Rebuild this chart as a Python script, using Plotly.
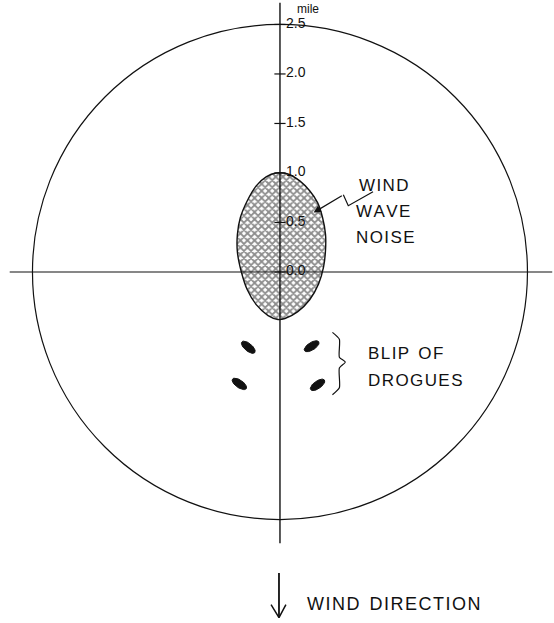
import numpy as np
import plotly.graph_objects as go

# ---- data (miles) ----
ring_radius = 2.5
tick_values = [0.0, 0.5, 1.0, 1.5, 2.0, 2.5]
tick_labels = ["0.0", "0.5", "1.0", "1.5", "2.0", "2.5"]

noise_x = [-0.04, 0.08, 0.20, 0.30, 0.38, 0.43, 0.46, 0.46, 0.44, 0.39, 0.30, 0.18, 0.05,
           -0.02, -0.12, -0.24, -0.33, -0.39, -0.43, -0.43, -0.40, -0.33, -0.24, -0.14, -0.04]
noise_y = [1.00, 0.99, 0.92, 0.82, 0.70, 0.55, 0.38, 0.22, 0.05, -0.12, -0.28, -0.40, -0.47,
           -0.48, -0.44, -0.33, -0.18, 0.00, 0.20, 0.38, 0.55, 0.72, 0.87, 0.96, 1.00]

drogue_x = [-0.32, 0.32, -0.41, 0.38]
drogue_y = [-0.76, -0.75, -1.13, -1.14]
drogue_angle = [-40, 32, -35, 35]

zig_x = [0.94, 0.69, 0.64, 0.34]
zig_y = [0.81, 0.67, 0.78, 0.60]

brace_x = [0.53, 0.60, 0.60, 0.66, 0.60, 0.60, 0.53]
brace_y = [-0.61, -0.68, -0.86, -0.91, -0.97, -1.17, -1.24]

BLACK = "#111111"
FONT = "Liberation Sans"
HS = "\u200a"  # hair space for letter spacing

fig = go.Figure()

# wind wave noise blob
fig.add_trace(go.Scatter(
    x=noise_x, y=noise_y, mode="lines", fill="toself",
    line=dict(color=BLACK, width=1.4, shape="spline", smoothing=0.8),
    fillcolor="white",
    fillpattern=dict(shape="x", size=5, solidity=0.6, fgcolor="#1a1a1a", bgcolor="white"),
    hoverinfo="skip", showlegend=False))

# axes lines
fig.add_trace(go.Scatter(x=[-2.73, 2.75], y=[0, 0], mode="lines",
                         line=dict(color=BLACK, width=1.1), hoverinfo="skip", showlegend=False))
fig.add_trace(go.Scatter(x=[0, 0], y=[2.72, -2.74], mode="lines",
                         line=dict(color=BLACK, width=1.4), hoverinfo="skip", showlegend=False))

# ticks and labels
fig.add_trace(go.Scatter(
    x=[0] * len(tick_values), y=tick_values, mode="markers+text",
    marker=dict(symbol="line-ew", size=8, line=dict(width=1.2, color=BLACK)),
    text=tick_labels, textposition="middle right",
    textfont=dict(family=FONT, size=14, color=BLACK),
    hoverinfo="skip", showlegend=False))

# drogue blips
a, b = 0.085, 0.038
t = np.linspace(0, 2 * np.pi, 40)
for cx, cy, ang in zip(drogue_x, drogue_y, drogue_angle):
    th = np.deg2rad(ang)
    ex = cx + a * np.cos(t) * np.cos(th) - b * np.sin(t) * np.sin(th)
    ey = cy + a * np.cos(t) * np.sin(th) + b * np.sin(t) * np.cos(th)
    fig.add_trace(go.Scatter(x=ex, y=ey, mode="lines", fill="toself",
                             line=dict(color=BLACK, width=1), fillcolor=BLACK,
                             hoverinfo="skip", showlegend=False))

# brace
fig.add_trace(go.Scatter(x=brace_x, y=brace_y, mode="lines",
                         line=dict(color=BLACK, width=1.2, shape="spline", smoothing=0.6),
                         hoverinfo="skip", showlegend=False))

# zigzag pointer
fig.add_trace(go.Scatter(x=zig_x[:3], y=zig_y[:3], mode="lines",
                         line=dict(color=BLACK, width=1.2), hoverinfo="skip", showlegend=False))
fig.add_annotation(x=zig_x[3], y=zig_y[3], ax=zig_x[2], ay=zig_y[2],
                   xref="x", yref="y", axref="x", ayref="y",
                   showarrow=True, arrowhead=2, arrowsize=1.2, arrowwidth=1.2,
                   arrowcolor=BLACK, text="")

# wind direction arrow
fig.add_trace(go.Scatter(x=[-0.01, -0.01], y=[-3.04, -3.49], mode="lines",
                         line=dict(color=BLACK, width=1.8), hoverinfo="skip", showlegend=False))
fig.add_trace(go.Scatter(x=[-0.09, -0.01, 0.06], y=[-3.36, -3.49, -3.36], mode="lines",
                         line=dict(color=BLACK, width=1.5), hoverinfo="skip", showlegend=False))

# circle
fig.add_shape(type="circle", xref="x", yref="y",
              x0=-ring_radius, x1=ring_radius, y0=-ring_radius, y1=ring_radius,
              line=dict(color=BLACK, width=1.2), layer="above")

def label(x, y, text, size=17, anchor="left"):
    fig.add_annotation(x=x, y=y, xref="x", yref="y", text=text, showarrow=False,
                       xanchor=anchor, yanchor="middle",
                       font=dict(family=FONT, size=size, color=BLACK))

def spaced(s):
    return HS.join(list(s))

label(0.15, 2.66, "mile", size=12)
label(0.78, 0.87, spaced("WIND"))
label(0.75, 0.61, spaced("WAVE"))
label(0.75, 0.35, spaced("NOISE"))
label(0.87, -0.82, spaced("BLIP") + "  " + spaced("OF"))
label(0.87, -1.10, spaced("DROGUES"))
label(0.25, -3.35, spaced("WIND") + "  " + spaced("DIRECTION"), size=18)

fig.update_layout(
    width=554, height=623, autosize=False,
    margin=dict(l=0, r=0, t=0, b=0),
    paper_bgcolor="white", plot_bgcolor="white",
    xaxis=dict(range=[-2.828, 2.768], visible=False, fixedrange=True),
    yaxis=dict(range=[-3.545, 2.747], visible=False, fixedrange=True),
    showlegend=False,
)

# remove the default 8 px body margin so the figure fills the window
fig.write_html("out.html",
               config={"displayModeBar": False, "staticPlot": True},
               post_script="document.body.style.margin='0px';document.body.style.overflow='hidden';")
